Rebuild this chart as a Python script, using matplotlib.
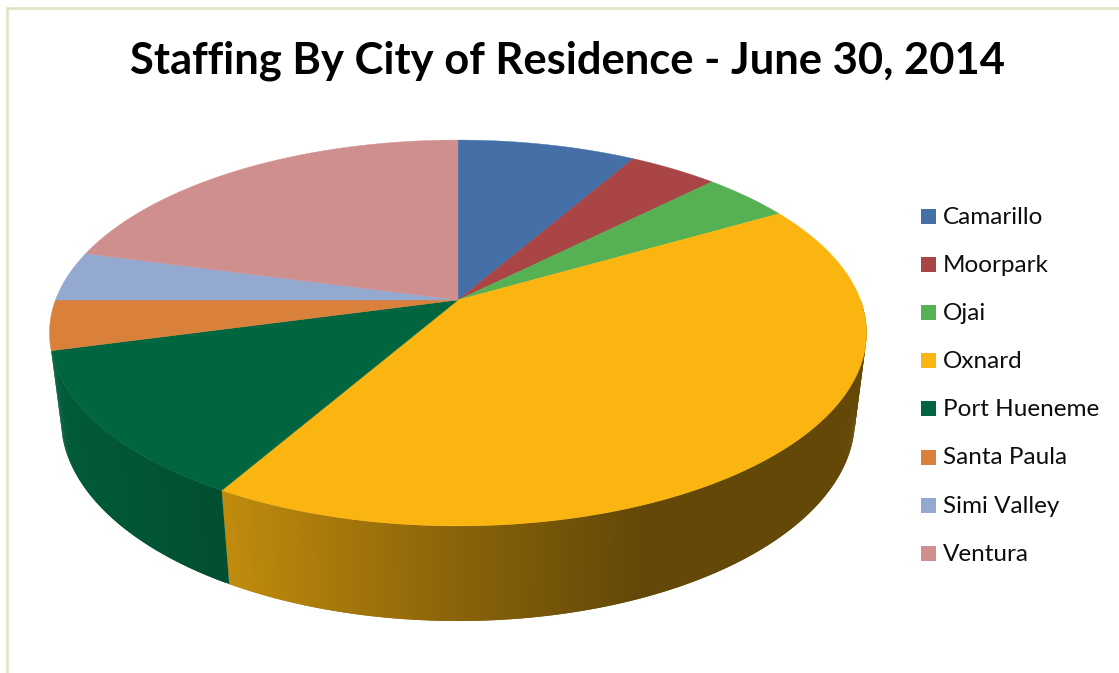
import numpy as np
import matplotlib.pyplot as plt
from matplotlib.colors import to_rgb
from matplotlib.patches import Polygon, Rectangle

# head count per city
cities = ['Camarillo', 'Moorpark', 'Ojai', 'Oxnard', 'Port Hueneme',
          'Santa Paula', 'Simi Valley', 'Ventura']
staff = [2, 1, 1, 10, 3, 1, 1, 5]
colors = ['#4470A7', '#A94544', '#55B153', '#FAB511', '#01663F',
          '#D9813B', '#94A9D0', '#CF8F8E']
title = 'Staffing By City of Residence - June 30, 2014'

plt.rcParams['font.family'] = ['Lato', 'DejaVu Sans']

fig = plt.figure(figsize=(11.19, 6.73), dpi=100)
ax = fig.add_axes([0, 0, 1, 1])
ax.set_xlim(0, 1119)
ax.set_ylim(673, 0)
ax.axis('off')

CX, CY = 458, 300


# perspective view of a disc: theta clockwise from 12 o'clock, z=0 top, z=1 bottom
def project(theta, z=0.0):
    u = np.sin(np.radians(theta))
    v = -np.cos(np.radians(theta))
    w = 1 - 0.171 * v + 0.028 * z
    return CX + 402.5 * u / w, CY + (187.3 * v + 87.8 * z) / w


# side wall gets darker towards the right
def shade(x):
    return np.interp(x, [50, 225, 460, 640, 867], [0.9, 0.77, 0.55, 0.40, 0.40])


edges = 360 * np.concatenate([[0], np.cumsum(staff)]) / sum(staff)

# walls first, the top face is painted over them
for i, color in enumerate(colors):
    start = max(edges[i], 90)
    end = min(edges[i + 1], 255)
    if end <= start:
        continue
    steps = np.linspace(start, end, int((end - start) / 0.5) + 2)
    for j in range(len(steps) - 1):
        # each strip runs on under the next one so no seams show
        a, b = steps[j], steps[min(j + 2, len(steps) - 1)]
        x0, y0 = project(a)
        x1, y1 = project(b)
        x2, y2 = project(b, 1)
        x3, y3 = project(a, 1)
        f = shade(x0)
        c = tuple(f * ch for ch in to_rgb(color))
        ax.add_patch(Polygon([(x0, y0), (x1, y1), (x2, y2), (x3, y3)],
                             facecolor=c, edgecolor='none', linewidth=0))

for i, color in enumerate(colors):
    arc = np.linspace(edges[i], edges[i + 1], 120)
    xs, ys = project(arc)
    pts = [(CX, CY)] + list(zip(xs, ys))
    ax.add_patch(Polygon(pts, facecolor=color, edgecolor=color, linewidth=0.3))

# outer frame, only top and left are in view
ax.plot([7, 7, 1119], [673, 8, 8], color='#DCE6C3', linewidth=1.9,
        solid_joinstyle='miter')

ax.text(567, 61, title, fontsize=31.3, fontweight='bold', color='black',
        ha='center', va='center')

for i, name in enumerate(cities):
    y = 216.5 + 48.1 * i
    ax.add_patch(Rectangle((921, y - 7.5), 15, 15, facecolor=colors[i], edgecolor='none'))
    ax.text(943, y + 1, name, fontsize=17.5, color='#0d0d0d', ha='left', va='center')

fig.savefig('out.png', dpi=100, facecolor='white')
